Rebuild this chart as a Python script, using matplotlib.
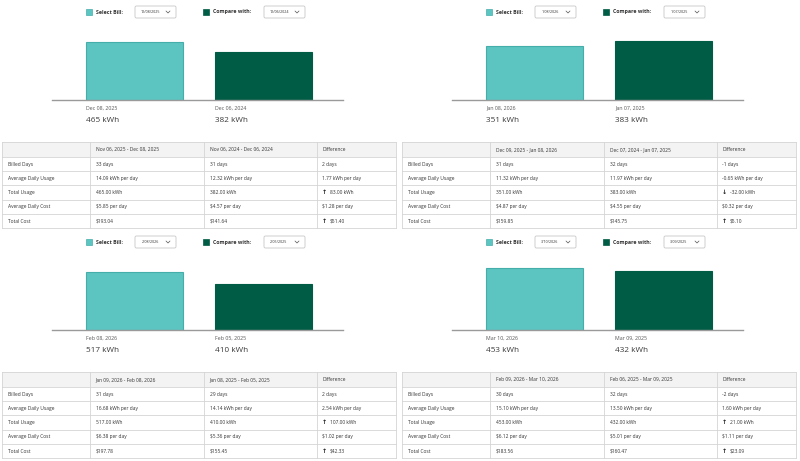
import matplotlib
matplotlib.use("Agg")
import matplotlib.pyplot as plt
from matplotlib.patches import Rectangle, FancyBboxPatch

plt.rcParams['font.family'] = ['Open Sans', 'DejaVu Sans']

# ---------------- data ----------------
select_dates = ["12/08/2025", "1/08/2026", "2/08/2026", "3/10/2026"]
compare_dates = ["12/06/2024", "1/07/2025", "2/05/2025", "3/09/2025"]
select_labels = ["Dec 08, 2025", "Jan 08, 2026", "Feb 08, 2026", "Mar 10, 2026"]
compare_labels = ["Dec 06, 2024", "Jan 07, 2025", "Feb 05, 2025", "Mar 09, 2025"]
select_kwh = [465, 351, 517, 453]
compare_kwh = [382, 383, 410, 432]
y_top = [561, 458, 627, 513]

period_select = ["Nov 06, 2025 - Dec 08, 2025", "Dec 09, 2025 - Jan 08, 2026",
                 "Jan 09, 2026 - Feb 08, 2026", "Feb 09, 2026 - Mar 10, 2026"]
period_compare = ["Nov 06, 2024 - Dec 06, 2024", "Dec 07, 2024 - Jan 07, 2025",
                  "Jan 08, 2025 - Feb 05, 2025", "Feb 06, 2025 - Mar 09, 2025"]
row_labels = ["Billed Days", "Average Daily Usage", "Total Usage",
              "Average Daily Cost", "Total Cost"]
select_rows = [
    ["33 days", "14.09 kWh per day", "465.00 kWh", "$5.85 per day", "$193.04"],
    ["31 days", "11.32 kWh per day", "351.00 kWh", "$4.87 per day", "$159.85"],
    ["31 days", "16.68 kWh per day", "517.00 kWh", "$6.38 per day", "$197.78"],
    ["30 days", "15.10 kWh per day", "453.00 kWh", "$6.12 per day", "$183.56"],
]
compare_rows = [
    ["31 days", "12.32 kWh per day", "382.00 kWh", "$4.57 per day", "$141.64"],
    ["32 days", "11.97 kWh per day", "383.00 kWh", "$4.55 per day", "$145.75"],
    ["29 days", "14.14 kWh per day", "410.00 kWh", "$5.36 per day", "$155.45"],
    ["32 days", "13.50 kWh per day", "432.00 kWh", "$5.01 per day", "$160.47"],
]
diff_rows = [
    ["2 days", "1.77 kWh per day", "83.00 kWh", "$1.28 per day", "$51.40"],
    ["-1 days", "-0.65 kWh per day", "-32.00 kWh", "$0.32 per day", "$5.10"],
    ["2 days", "2.54 kWh per day", "107.00 kWh", "$1.02 per day", "$42.33"],
    ["-2 days", "1.60 kWh per day", "21.00 kWh", "$1.11 per day", "$23.09"],
]
# trend arrows in the Difference column (row index -> arrow)
diff_arrows = [
    {2: "↑", 4: "↑"},
    {2: "↓", 4: "↑"},
    {2: "↑", 4: "↑"},
    {2: "↑", 4: "↑"},
]

TEAL = "#5cc5c1"
TEAL_EDGE = "#45aeaa"
DARK = "#005c45"
TXT = "#333333"
GRID = "#d4d4d4"

W, H = 800, 461
fig = plt.figure(figsize=(8.0, 4.61), dpi=100)
fig.patch.set_facecolor("white")

ov = fig.add_axes([0, 0, 1, 1])
ov.set_xlim(0, W)
ov.set_ylim(H, 0)
ov.axis("off")


def fig_rect(x0, y0, x1, y1):
    return [x0 / W, 1 - y1 / H, (x1 - x0) / W, (y1 - y0) / H]


def chevron(x, y):
    ov.plot([x - 2, x, x + 2], [y - 1, y + 1, y - 1], color="#555555", lw=0.5,
            solid_capstyle="round", solid_joinstyle="round")


def dropdown(x0, y, text):
    ov.add_patch(FancyBboxPatch((x0, y - 6), 41, 12, boxstyle="round,pad=0,rounding_size=1.5",
                                facecolor="white", edgecolor="#c8c8c8", lw=0.6))
    ov.text(x0 + 15, y, text, fontsize=2.6, color=TXT, va="center", ha="center")
    chevron(x0 + 33, y)


offsets = [(0, 0), (400, 0), (0, 230), (400, 230)]
col_x = [2, 90, 204, 317, 396]
row_y = [142, 157, 171, 185.3, 199.6, 214, 228.4]

for i, (ox, oy) in enumerate(offsets):
    # ---- legend / selectors ----
    ly = oy + 12
    ov.add_patch(Rectangle((ox + 86, ly - 3), 6, 6, facecolor=TEAL, edgecolor=TEAL_EDGE, lw=0.5))
    ov.text(ox + 96, ly, "Select Bill:", fontsize=3.8, fontweight="bold", color=TXT, va="center", ha="left")
    dropdown(ox + 135, ly, select_dates[i])

    ov.add_patch(Rectangle((ox + 203, ly - 3), 6, 6, facecolor=DARK, edgecolor=DARK, lw=0.5))
    ov.text(ox + 213, ly, "Compare with:", fontsize=3.8, fontweight="bold", color=TXT, va="center", ha="left")
    dropdown(ox + 264, ly, compare_dates[i])

    # ---- bars ----
    ax = fig.add_axes(fig_rect(ox + 52, oy + 30, ox + 343, oy + 100))
    vals = [select_kwh[i], compare_kwh[i]]
    pos = [0, 1]
    bw = 0.752
    ax.bar(pos, vals, width=bw, color=[TEAL, DARK], edgecolor=[TEAL_EDGE, DARK], linewidth=0.8)
    ax.set_xlim(-0.64, 1.616)
    ax.set_ylim(0, y_top[i])
    for s in ["top", "left", "right"]:
        ax.spines[s].set_visible(False)
    ax.spines["bottom"].set_color("#9a9a9a")
    ax.spines["bottom"].set_linewidth(1.0)
    ax.set_xticks([])
    ax.set_yticks([])
    ax.patch.set_alpha(0)
    for p, lab, v in zip(pos, [select_labels[i], compare_labels[i]], vals):
        ax.annotate(lab, xy=(p - bw / 2, 0), xycoords="data", xytext=(0, -3.8),
                    textcoords="offset points", fontsize=3.8, color="#555555",
                    ha="left", va="top", annotation_clip=False)
        ax.annotate(f"{v} kWh", xy=(p - bw / 2, 0), xycoords="data", xytext=(0, -14.6),
                    textcoords="offset points", fontsize=5.9, color="#3a3a3a",
                    ha="left", va="center", annotation_clip=False)

    # ---- table ----
    tx = [ox + c for c in col_x]
    ty = [oy + r for r in row_y]
    ov.add_patch(Rectangle((tx[0], ty[0]), tx[-1] - tx[0], ty[1] - ty[0],
                           facecolor="#f3f3f3", edgecolor="none"))
    for y in ty:
        ov.plot([tx[0], tx[-1]], [y, y], color=GRID, lw=0.6)
    for x in tx:
        ov.plot([x, x], [ty[0], ty[-1]], color=GRID, lw=0.6)
    header = ["", period_select[i], period_compare[i], "Difference"]
    for c, htxt in enumerate(header):
        ov.text(tx[c] + 5.5, (ty[0] + ty[1]) / 2, htxt, fontsize=3.5, color=TXT, va="center", ha="left")
    for r in range(5):
        cells = [row_labels[r], select_rows[i][r], compare_rows[i][r], diff_rows[i][r]]
        yc = (ty[r + 1] + ty[r + 2]) / 2
        for c, ctxt in enumerate(cells):
            xt = tx[c] + 5.5
            if c == 3 and r in diff_arrows[i]:
                ov.text(xt + 2, yc, diff_arrows[i][r], fontsize=4.6, fontweight="bold",
                        family="DejaVu Sans", color="#222222", va="center", ha="center")
                xt += 7
            ov.text(xt, yc, ctxt, fontsize=3.5, color=TXT, va="center", ha="left")

fig.savefig("out.png", dpi=100, facecolor="white")
